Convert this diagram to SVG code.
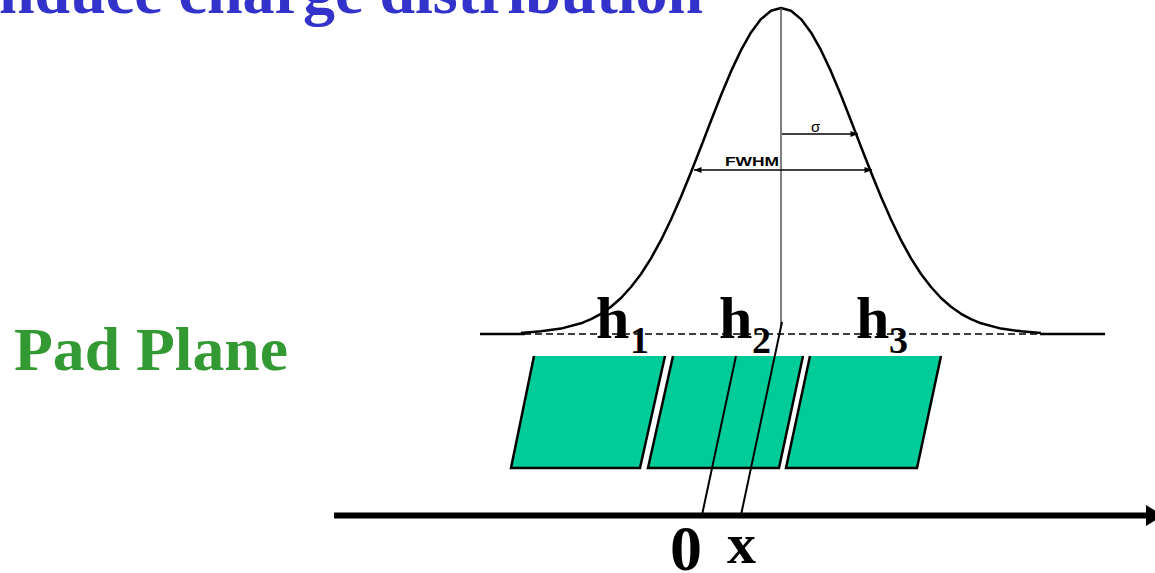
<svg xmlns="http://www.w3.org/2000/svg" width="1155" height="573" viewBox="0 0 1155 573">
<style>
.serif{font-family:"Liberation Serif","Times New Roman",serif;font-weight:bold}
.pad{fill:#00CC99;stroke:none}
.edge{fill:none;stroke:#000;stroke-width:2.5;stroke-linejoin:miter}
.thin{fill:none;stroke:#000;stroke-width:1.5}
.lbl{font-family:"Liberation Sans",Arial,sans-serif;fill:#000}
</style>
<defs>
<marker id="ah" viewBox="0 0 10 8" refX="10" refY="4" markerWidth="9" markerHeight="6" markerUnits="userSpaceOnUse" orient="auto-start-reverse">
<path d="M0,0 L10,4 L0,8 Z" fill="#000"/>
</marker>
</defs>
<rect width="1155" height="573" fill="#fff"/>
<g id="title"><text class="serif" x="-1" y="13" font-size="64" fill="#3333CC">nduce charge distribution</text></g>
<g id="pad-plane-label"><text class="serif" x="14" y="370" font-size="62" textLength="274" lengthAdjust="spacingAndGlyphs" fill="#339933">Pad Plane</text></g>
<g id="gaussian">
<line x1="480" y1="334" x2="1105" y2="334" stroke="#000" stroke-width="1.5" stroke-dasharray="7,4"/>
<line x1="480" y1="334" x2="525" y2="334" stroke="#000" stroke-width="2.5"/>
<line x1="1040" y1="334" x2="1105" y2="334" stroke="#000" stroke-width="2.5"/>
<polyline fill="none" stroke="#000" stroke-width="2.5" stroke-linejoin="round" points="521,333.1 541,331.3 561,328.6 581,323.3 591,319.2 601,313.8 611,306.8 621,298 631,287 641,274 651,258.3 661,240.2 671,219.5 681,196.8 691,172.3 701,146.7 711,120.7 721,95.3 731,71.4 741,50.2 751,32.4 761,19.1 771,10.8 781,8 791,10.8 801,19.1 811,32.4 821,50.2 831,71.4 841,95.3 851,120.7 861,146.7 871,172.3 881,196.8 891,219.5 901,240.2 911,258.3 921,274 931,287 941,298 951,306.8 961,313.8 971,319.2 981,323.3 1001,328.6 1021,331.3 1041,333.1"/>
<line x1="781" y1="8" x2="781" y2="326" stroke="#555" stroke-width="1.5"/>
</g>
<g id="fwhm">
<line class="thin" x1="694" y1="170" x2="872" y2="170" marker-start="url(#ah)" marker-end="url(#ah)"/>
<text class="lbl" x="725" y="166" font-size="13" font-weight="bold" textLength="54" lengthAdjust="spacingAndGlyphs">FWHM</text>
</g>
<g id="sigma">
<line class="thin" x1="782" y1="134" x2="858" y2="134" marker-end="url(#ah)"/>
<text class="lbl" x="811" y="132" font-size="15">σ</text>
</g>
<g id="pad1">
<polygon class="pad" points="534,356 665,356 640,468 511,468"/>
<polyline class="edge" points="534,356 511,468 640,468 665,356"/>
</g>
<g id="pad2">
<polygon class="pad" points="673,356 803,356 779,468 648,468"/>
<polyline class="edge" points="673,356 648,468 779,468 803,356"/>
</g>
<g id="pad3">
<polygon class="pad" points="810,356 941,356 917,468 786,468"/>
<polyline class="edge" points="810,356 786,468 917,468 941,356"/>
</g>
<g id="h-labels" class="serif" fill="#000">
<text x="596" y="338" font-size="60">h</text><text x="630" y="353" font-size="38">1</text>
<text x="719" y="338" font-size="60">h</text><text x="752" y="353" font-size="38">2</text>
<text x="856" y="338" font-size="60">h</text><text x="889" y="353" font-size="38">3</text>
</g>
<g id="connectors">
<line x1="736" y1="356" x2="702" y2="515" stroke="#000" stroke-width="2"/>
<line x1="782" y1="322" x2="741" y2="515" stroke="#000" stroke-width="2"/>
</g>
<g id="axis">
<line x1="334" y1="515.5" x2="1148" y2="515.5" stroke="#000" stroke-width="6"/>
<polygon points="1146,505 1163,515.5 1146,526" fill="#000"/>
<text class="serif" x="670" y="570" font-size="64" fill="#000">0</text>
<text class="serif" x="727" y="563" font-size="58" fill="#000">x</text>
</g>
</svg>
